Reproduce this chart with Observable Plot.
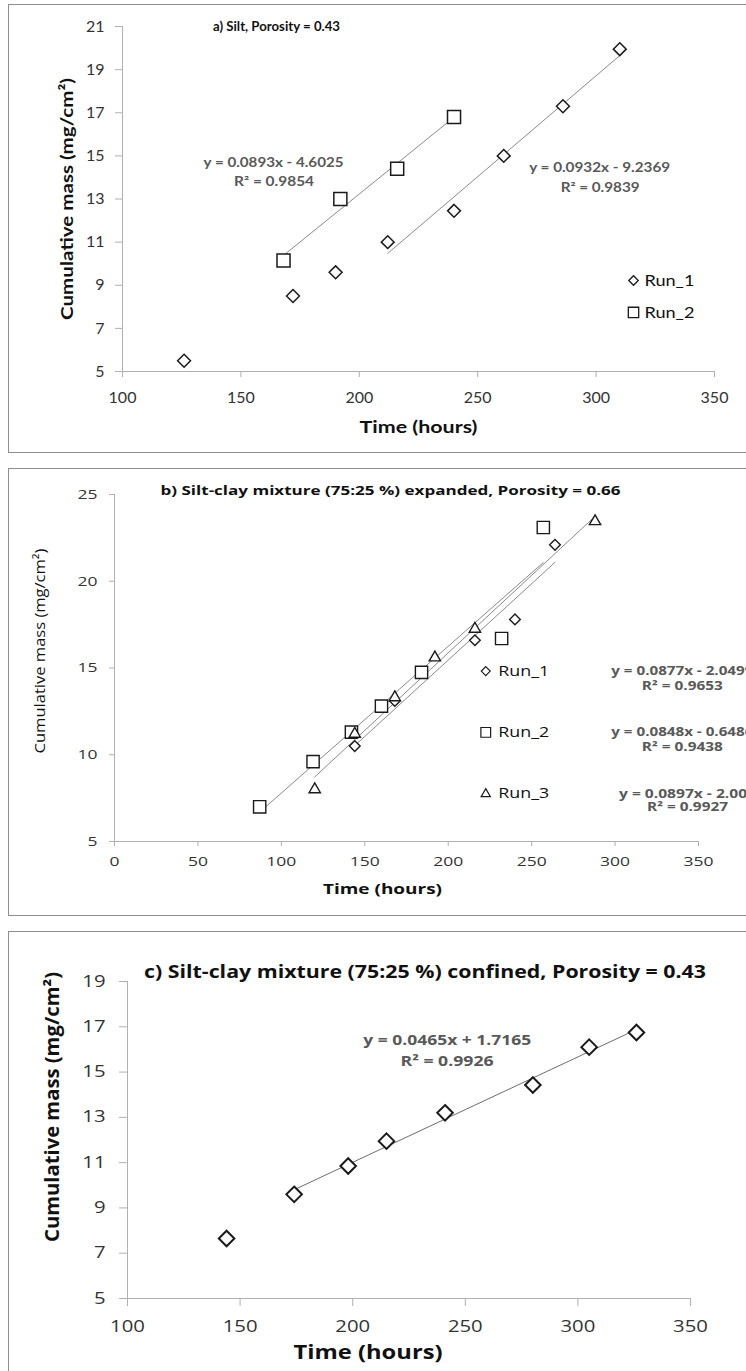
<!DOCTYPE html>
<html>
<head>
<meta charset="utf-8">
<script src="https://cdn.jsdelivr.net/npm/d3@7"></script>
<script src="https://cdn.jsdelivr.net/npm/@observablehq/plot@0.6"></script>
<style>
  html, body { margin: 0; padding: 0; background: #fff; overflow: hidden; }
  body { position: relative; width: 746px; height: 1371px; }
  .frame { position: absolute; left: 8px; width: 800px; border-left: 1.5px solid #8f8f8f; border-top: 1.5px solid #8f8f8f; border-bottom: 1.5px solid #8f8f8f; box-sizing: border-box; }
  .panel { position: absolute; left: 0; }
</style>
</head>
<body>
<div class="frame" style="top:4px;height:449px;"></div>
<div class="frame" style="top:468px;height:448px;"></div>
<div class="frame" style="top:931px;height:460px;border-bottom:none;"></div>
<div id="pa" class="panel" style="top:4px"></div>
<div id="pb" class="panel" style="top:469px"></div>
<div id="pc" class="panel" style="top:932px"></div>
<script>
// ---------- Panel a) Silt, Porosity = 0.43 ----------
const aRun1X = [126, 172, 190, 212, 240, 261, 286, 310];
const aRun1Y = [5.5, 8.5, 9.6, 11.0, 12.45, 15.0, 17.3, 19.95];
const aRun2X = [168, 192, 216, 240];
const aRun2Y = [10.15, 13.0, 14.4, 16.8];
const aXTicks = [100, 150, 200, 250, 300, 350];
const aYTicks = [5, 7, 9, 11, 13, 15, 17, 19, 21];
const aTitle = "a) Silt, Porosity = 0.43";
const aEqRun1 = ["y = 0.0932x - 9.2369", "R² = 0.9839"];
const aEqRun2 = ["y = 0.0893x - 4.6025", "R² = 0.9854"];
const aRun1FitFrom = 212;

// ---------- Panel b) expanded ----------
const bRun1X = [144, 168, 216, 240, 264];
const bRun1Y = [10.5, 13.1, 16.6, 17.8, 22.1];
const bRun2X = [87, 119, 142, 160, 184, 232, 257];
const bRun2Y = [7.0, 9.6, 11.3, 12.8, 14.75, 16.7, 23.1];
const bRun3X = [120, 144, 168, 192, 216, 288];
const bRun3Y = [8.0, 11.2, 13.3, 15.6, 17.25, 23.45];
const bXTicks = [0, 50, 100, 150, 200, 250, 300, 350];
const bYTicks = [5, 10, 15, 20, 25];
const bTitle = "b) Silt-clay mixture (75:25 %) expanded, Porosity = 0.66";
const bEqRun1 = ["y = 0.0877x - 2.0499", "R² = 0.9653"];
const bEqRun2 = ["y = 0.0848x - 0.6486", "R² = 0.9438"];
const bEqRun3 = ["y = 0.0897x - 2.007", "R² = 0.9927"];

// ---------- Panel c) confined ----------
const cX = [144, 174, 198, 215, 241, 280, 305, 326];
const cY = [7.65, 9.6, 10.85, 11.95, 13.2, 14.43, 16.1, 16.75];
const cXTicks = [100, 150, 200, 250, 300, 350];
const cYTicks = [5, 7, 9, 11, 13, 15, 17, 19];
const cTitle = "c) Silt-clay mixture (75:25 %) confined, Porosity = 0.43";
const cEq = ["y = 0.0465x + 1.7165", "R² = 0.9926"];
const cFitFrom = 174;

const yLabel = "Cumulative mass (mg/cm²)";
const xLabel = "Time (hours)";
const legendNames = ["Run_1", "Run_2", "Run_3"];

const zip = (xs, ys) => xs.map((x, i) => ({x, y: ys[i]}));
const AX = "#b0b0b0", TXT = "#333", EQ = "#595959", SYM = "#1a1a1a", TREND = "#8a8a8a";
const one = (s) => [s];
const lbl = (s, o) => Plot.text(one(s), {text: d => d, textAnchor: "middle", lineAnchor: "middle", ...o});

// stretch texts to the widths measured on the reference
function fit(svg, widths, digitW) {
  d3.select(svg).selectAll("text").each(function () {
    const t = this.textContent;
    let w = widths.get(t);
    if (w == null && digitW && /^\d+$/.test(t)) w = t.length * digitW;
    if (w != null) {
      this.setAttribute("textLength", w);
      this.setAttribute("lengthAdjust", "spacingAndGlyphs");
    }
  });
}

// ===== Panel a =====
{
  const r1 = zip(aRun1X, aRun1Y), r2 = zip(aRun2X, aRun2Y);
  const F = "Lato, 'Open Sans', sans-serif";
  const eq = {fontSize: 12.5, fontWeight: "bold", fill: EQ};
  const svg = Plot.plot({
    width: 746, height: 448,
    marginLeft: 122, marginRight: 32, marginTop: 22, marginBottom: 81,
    x: {domain: [100, 350]}, y: {domain: [5, 21]},
    style: {background: "none", fontFamily: F},
    marks: [
      Plot.ruleX([100], {stroke: AX}),
      Plot.ruleY([5], {stroke: AX}),
      Plot.axisY({ticks: aYTicks, tickSize: 7, tickPadding: 11, stroke: AX, fill: TXT, fontSize: 16, label: null}),
      Plot.axisX({ticks: aXTicks, tickSize: 6, tickPadding: 14, stroke: AX, fill: TXT, fontSize: 16, label: null}),
      Plot.linearRegressionY(r1.filter(d => d.x >= aRun1FitFrom), {x: "x", y: "y", stroke: TREND, strokeWidth: 1, ci: 0}),
      Plot.linearRegressionY(r2, {x: "x", y: "y", stroke: TREND, strokeWidth: 1, ci: 0}),
      Plot.dot(r1, {x: "x", y: "y", symbol: "diamond2", r: 5.8, fill: "white", stroke: SYM, strokeWidth: 1.5}),
      Plot.dot(r2, {x: "x", y: "y", symbol: "square2", r: 8.3, fill: "white", stroke: SYM, strokeWidth: 1.5}),
      lbl(aTitle, {frameAnchor: "top", dx: -142, fontSize: 13.5, fontWeight: "bold", fill: "#111"}),
      lbl(aEqRun2[0], {x: () => 163.8, y: () => 14.69, ...eq}),
      lbl(aEqRun2[1], {x: () => 164.0, y: () => 13.77, ...eq}),
      lbl(aEqRun1[0], {x: () => 301.5, y: () => 14.46, ...eq}),
      lbl(aEqRun1[1], {x: () => 301.7, y: () => 13.53, ...eq}),
      Plot.dot(one(legendNames[0]), {x: () => 315.8, y: () => 9.22, symbol: "diamond2", r: 4.3, fill: "white", stroke: SYM, strokeWidth: 1.3}),
      Plot.dot(one(legendNames[1]), {x: () => 315.8, y: () => 7.74, symbol: "square2", r: 6.6, fill: "white", stroke: SYM, strokeWidth: 1.3}),
      Plot.text(legendNames.slice(0, 2), {text: d => d, x: () => 320.4, y: (d, i) => [9.22, 7.74][i], textAnchor: "start", fontSize: 16, fill: "#111"}),
      lbl(yLabel, {frameAnchor: "left", rotate: -90, dx: -55, fontSize: 17.5, fontWeight: "bold", fill: "#111"}),
      lbl(xLabel, {frameAnchor: "bottom", dy: 56, fontSize: 17.5, fontWeight: "bold", fill: "#111"})
    ]
  });
  fit(svg, new Map([[aTitle, 127], [yLabel, 242], [xLabel, 118],
    [aEqRun2[0], 140], [aEqRun2[1], 80], [aEqRun1[0], 141], [aEqRun1[1], 79],
    ["Run_1", 50], ["Run_2", 50]]));
  document.getElementById("pa").appendChild(svg);
}

// ===== Panel b =====
{
  const r1 = zip(bRun1X, bRun1Y), r2 = zip(bRun2X, bRun2Y), r3 = zip(bRun3X, bRun3Y);
  const F = "'Open Sans', Lato, sans-serif";
  const eq = {fontSize: 11.5, fontWeight: "bold", fill: EQ};
  const svg = Plot.plot({
    width: 746, height: 446,
    marginLeft: 114, marginRight: 48, marginTop: 25, marginBottom: 74,
    x: {domain: [0, 350]}, y: {domain: [5, 25]},
    style: {background: "none", fontFamily: F},
    marks: [
      Plot.ruleX([0], {stroke: AX}),
      Plot.ruleY([5], {stroke: AX}),
      Plot.axisY({ticks: bYTicks, tickSize: 5, tickPadding: 12, stroke: AX, fill: TXT, fontSize: 13.5, label: null}),
      Plot.axisX({ticks: bXTicks, tickSize: 5, tickPadding: 10, stroke: AX, fill: TXT, fontSize: 13.5, label: null}),
      Plot.linearRegressionY(r1, {x: "x", y: "y", stroke: TREND, strokeWidth: 1, ci: 0}),
      Plot.linearRegressionY(r2, {x: "x", y: "y", stroke: TREND, strokeWidth: 1, ci: 0}),
      Plot.linearRegressionY(r3, {x: "x", y: "y", stroke: TREND, strokeWidth: 1, ci: 0}),
      Plot.dot(r1, {x: "x", y: "y", symbol: "diamond2", r: 4.8, fill: "white", stroke: SYM, strokeWidth: 1.4}),
      Plot.dot(r2, {x: "x", y: "y", symbol: "square2", r: 7.8, fill: "white", stroke: SYM, strokeWidth: 1.4}),
      Plot.dot(r3, {x: "x", y: "y", symbol: "triangle2", r: 5.4, fill: "white", stroke: SYM, strokeWidth: 1.4}),
      lbl(bTitle, {frameAnchor: "top", dx: -16, dy: -4, fontSize: 13, fontWeight: "bold", fill: "#111"}),
      lbl(bEqRun1[0], {x: () => 340.3, y: () => 14.80, ...eq}),
      lbl(bEqRun1[1], {x: () => 340.3, y: () => 13.93, ...eq}),
      lbl(bEqRun2[0], {x: () => 340.3, y: () => 11.29, ...eq}),
      lbl(bEqRun2[1], {x: () => 340.3, y: () => 10.43, ...eq}),
      lbl(bEqRun3[0], {x: () => 343.4, y: () => 7.74, ...eq}),
      lbl(bEqRun3[1], {x: () => 343.4, y: () => 6.96, ...eq}),
      Plot.dot(one(legendNames[0]), {x: () => 222.5, y: () => 14.82, symbol: "diamond2", r: 4.0, fill: "white", stroke: SYM, strokeWidth: 1.2}),
      Plot.dot(one(legendNames[1]), {x: () => 222.5, y: () => 11.29, symbol: "square2", r: 6.2, fill: "white", stroke: SYM, strokeWidth: 1.2}),
      Plot.dot(one(legendNames[2]), {x: () => 222.5, y: () => 7.74, symbol: "triangle2", r: 4.4, fill: "white", stroke: SYM, strokeWidth: 1.2}),
      Plot.text(legendNames, {text: d => d, x: () => 230, y: (d, i) => [14.82, 11.29, 7.74][i], textAnchor: "start", fontSize: 14, fill: "#111"}),
      lbl(yLabel, {frameAnchor: "left", rotate: -90, dx: -74, dy: -17, fontSize: 15, fill: "#111"}),
      lbl(xLabel, {frameAnchor: "bottom", dx: -24, dy: 48, fontSize: 15, fontWeight: "bold", fill: "#111"})
    ]
  });
  fit(svg, new Map([[bTitle, 460], [yLabel, 205], [xLabel, 119],
    [bEqRun1[0], 142], [bEqRun1[1], 81], [bEqRun2[0], 142], [bEqRun2[1], 81],
    [bEqRun3[0], 137], [bEqRun3[1], 81],
    ["Run_1", 51], ["Run_2", 51], ["Run_3", 51]]), 10);
  document.getElementById("pb").appendChild(svg);
}

// ===== Panel c =====
{
  const pts = zip(cX, cY);
  const F = "'Open Sans', Lato, sans-serif";
  const eq = {fontSize: 14, fontWeight: "bold", fill: EQ};
  const svg = Plot.plot({
    width: 746, height: 439,
    marginLeft: 127, marginRight: 56, marginTop: 49, marginBottom: 73,
    x: {domain: [100, 350]}, y: {domain: [5, 19]},
    style: {background: "none", fontFamily: F},
    marks: [
      Plot.ruleX([100], {stroke: AX}),
      Plot.ruleY([5], {stroke: AX}),
      Plot.axisY({ticks: cYTicks, tickSize: 8, tickPadding: 14, stroke: AX, fill: TXT, fontSize: 16, label: null}),
      Plot.axisX({ticks: cXTicks, tickSize: 8, tickPadding: 14, stroke: AX, fill: TXT, fontSize: 16, label: null}),
      Plot.linearRegressionY(pts.filter(d => d.x >= cFitFrom), {x: "x", y: "y", stroke: "#6e6e6e", strokeWidth: 1, ci: 0}),
      Plot.dot(pts, {x: "x", y: "y", symbol: "diamond2", r: 7.0, fill: "white", stroke: SYM, strokeWidth: 2}),
      lbl(cTitle, {frameAnchor: "top", dx: 16, dy: -9, fontSize: 17, fontWeight: "bold", fill: "#111"}),
      lbl(cEq[0], {x: () => 242.0, y: () => 16.38, ...eq}),
      lbl(cEq[1], {x: () => 241.9, y: () => 15.47, ...eq}),
      lbl(yLabel, {frameAnchor: "left", rotate: -90, dx: -75, dy: -33, fontSize: 19, fontWeight: "bold", fill: "#111"}),
      lbl(xLabel, {frameAnchor: "bottom", dx: -41, dy: 54, fontSize: 20, fontWeight: "bold", fill: "#111"})
    ]
  });
  fit(svg, new Map([[cTitle, 562], [yLabel, 270], [xLabel, 149], [cEq[0], 168], [cEq[1], 93]]), 11.6);
  document.getElementById("pc").appendChild(svg);
}
</script>
</body>
</html>
